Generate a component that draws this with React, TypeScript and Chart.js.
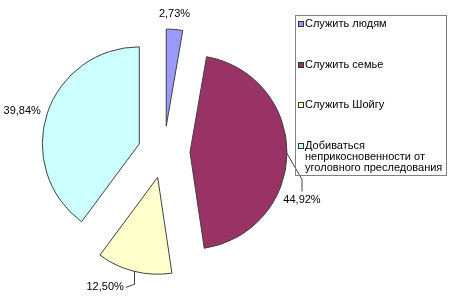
import { useEffect, useRef } from 'react';
import { Chart, registerables } from 'chart.js';

Chart.register(...registerables);

const categories = [
  'Служить людям',
  'Служить семье',
  'Служить Шойгу',
  'Добиваться неприкосновенности от уголовного преследования',
];
const shares = [2.73, 44.92, 12.5, 39.84];
const sliceColors = ['#9999FF', '#993366', '#FFFFCC', '#CCFFFF'];

// layout / style settings
const EXPLODE = 26;
const RADIUS = 97;
const FONT = '11px "Liberation Sans", Arial, sans-serif';
const labelNudges: [number, number][] = [
  [0, -15],
  [15, 46],
  [-29, 16],
  [-25, -2],
];

const fmt = (v: number) => v.toFixed(2).replace('.', ',') + '%';

// pull every slice out of the pie by the same distance along its mid-angle
const explodePlugin = {
  id: 'explode',
  beforeDatasetsDraw(chart: any) {
    const area = chart.chartArea;
    const cx = (area.left + area.right) / 2;
    const cy = (area.top + area.bottom) / 2;
    const meta = chart.getDatasetMeta(0);
    meta.data.forEach((arc: any) => {
      const mid = (arc.startAngle + arc.endAngle) / 2;
      arc.x = cx + Math.cos(mid) * EXPLODE;
      arc.y = cy + Math.sin(mid) * EXPLODE;
    });
  },
};

const labelPlugin = {
  id: 'sliceLabels',
  afterDatasetsDraw(chart: any) {
    const ctx = chart.ctx as CanvasRenderingContext2D;
    const meta = chart.getDatasetMeta(0);
    ctx.save();
    ctx.font = FONT;
    ctx.fillStyle = '#000';
    ctx.textAlign = 'center';
    ctx.textBaseline = 'middle';
    meta.data.forEach((arc: any, i: number) => {
      const { x, y, startAngle, endAngle, outerRadius } = arc;
      const mid = (startAngle + endAngle) / 2;
      const ax = x + Math.cos(mid) * outerRadius;
      const ay = y + Math.sin(mid) * outerRadius;
      const [dx, dy] = labelNudges[i];
      const lx = ax + dx;
      const ly = ay + dy;
      const text = fmt(shares[i]);
      const w = ctx.measureText(text).width;
      if (Math.hypot(dx, dy) > 30) {
        ctx.beginPath();
        ctx.strokeStyle = '#404040';
        ctx.lineWidth = 1;
        if (Math.abs(dy) > Math.abs(dx)) {
          ctx.moveTo(ax, ay);
          ctx.lineTo(lx, ly - 20);
          ctx.lineTo(lx, ly - 8);
        } else {
          const ex = dx < 0 ? lx + w / 2 + 2 : lx - w / 2 - 2;
          ctx.moveTo(Math.round(ax) + 0.5, ay);
          ctx.lineTo(Math.round(ax) + 0.5, ly - 3);
          ctx.lineTo(ex, ly);
        }
        ctx.stroke();
      }
      ctx.fillText(text, lx, ly);
    });
    ctx.restore();
  },
};

const legendPlugin = {
  id: 'boxLegend',
  afterDraw(chart: any) {
    const ctx = chart.ctx as CanvasRenderingContext2D;
    const boxX = 295.5;
    const boxY = 15.5;
    const boxW = 151;
    const boxH = 160;
    const textX = 305;
    const maxW = 140;
    const lineH = 11;
    const gap = 29.5;
    ctx.save();
    ctx.strokeStyle = '#808080';
    ctx.lineWidth = 1;
    ctx.strokeRect(boxX, boxY, boxW, boxH);
    ctx.font = FONT;
    ctx.textAlign = 'left';
    ctx.textBaseline = 'middle';
    let yy = 24;
    categories.forEach((label, i) => {
      const words = label.split(' ');
      const lines: string[] = [];
      let cur = '';
      words.forEach((wd) => {
        const test = cur ? cur + ' ' + wd : wd;
        if (cur && ctx.measureText(test).width > maxW) {
          lines.push(cur);
          cur = wd;
        } else {
          cur = test;
        }
      });
      if (cur) lines.push(cur);
      ctx.fillStyle = sliceColors[i];
      ctx.fillRect(298, Math.round(yy) - 3, 6, 6);
      ctx.strokeStyle = '#333';
      ctx.strokeRect(298.5, Math.round(yy) - 2.5, 5, 5);
      ctx.fillStyle = '#000';
      lines.forEach((ln, k) => {
        ctx.fillText(ln, textX, yy + k * lineH);
      });
      yy += lines.length * lineH + gap;
    });
    ctx.restore();
  },
};

export default function App() {
  const ref = useRef<HTMLCanvasElement | null>(null);
  useEffect(() => {
    document.body.style.margin = '0';
    if (!ref.current) return;
    const chart = new Chart(ref.current, {
      type: 'pie',
      data: {
        labels: categories,
        datasets: [
          {
            data: shares,
            backgroundColor: sliceColors,
            borderColor: '#404040',
            borderWidth: 1,
            offset: 0,
          },
        ],
      },
      options: {
        animation: false,
        responsive: true,
        maintainAspectRatio: false,
        events: [],
        radius: RADIUS,
        layout: { padding: { left: 0, right: 122, top: 4, bottom: 0 } },
        plugins: {
          legend: { display: false },
          tooltip: { enabled: false },
        },
      },
      plugins: [explodePlugin, labelPlugin, legendPlugin],
    });
    return () => chart.destroy();
  }, []);
  return (
    <div style={{ position: 'absolute', left: 0, top: 0, width: 450, height: 300, background: '#fff' }}>
      <canvas ref={ref} />
    </div>
  );
}
